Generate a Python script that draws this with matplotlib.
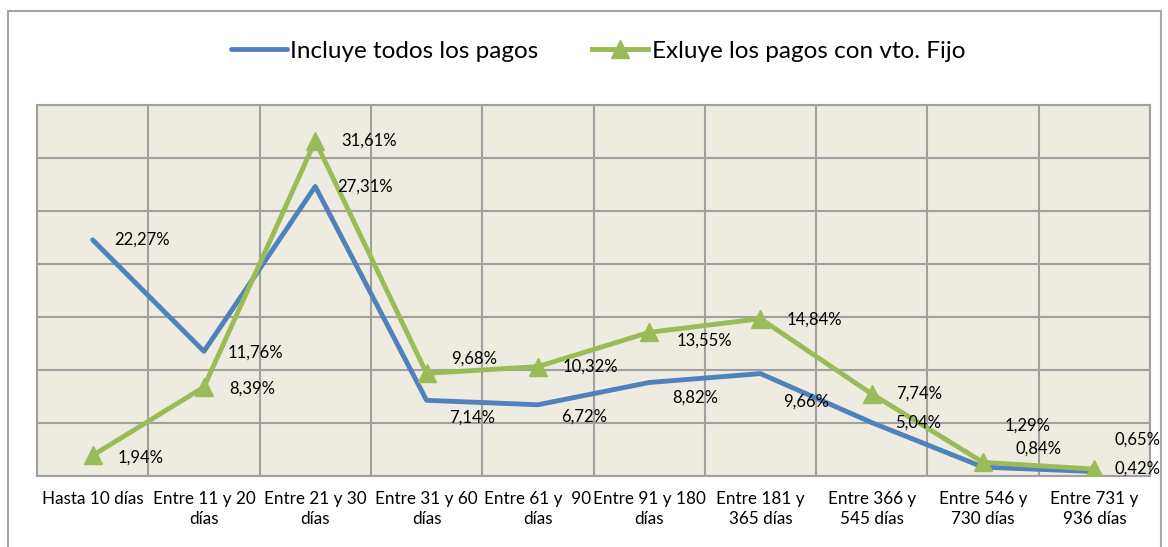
import matplotlib.pyplot as plt
from matplotlib.patches import Rectangle

# Datos
categorias = ["Hasta 10 días", "Entre 11 y 20\ndías", "Entre 21 y 30\ndías",
              "Entre 31 y 60\ndías", "Entre 61 y  90\ndías", "Entre 91 y 180\ndías",
              "Entre 181 y\n365 días", "Entre 366 y\n545 días", "Entre 546 y\n730 días",
              "Entre 731 y\n936 días"]
todos_pagos = [22.27, 11.76, 27.31, 7.14, 6.72, 8.82, 9.66, 5.04, 0.84, 0.42]
sin_vto_fijo = [1.94, 8.39, 31.61, 9.68, 10.32, 13.55, 14.84, 7.74, 1.29, 0.65]

# desplazamiento de cada etiqueta (pixeles, dy + hacia abajo)
dy_azul = [0, 1, 0, 17, 12, 15, 28, 0, -18, -3]
dy_verde = [2, 2, 0, -15, 0, 8, 1, 0, -37, -29]
dx_azul = [22, 24, 22, 23, 23, 23, 23, 23, 32, 20]
dx_verde = [25, 25, 26, 25, 25, 27, 26, 24, 22, 20]

AZUL = "#4F81BD"
VERDE = "#9BBB59"
GRIS = "#A0A0A0"

plt.rcParams['font.family'] = ['Lato', 'DejaVu Sans']

fig = plt.figure(figsize=(11.68, 5.47), dpi=100)
fig.patches.append(Rectangle((8 / 1168, -0.1), (1161 - 8) / 1168, 1.1 - 11 / 547,
                             transform=fig.transFigure, fill=False,
                             edgecolor="#A6A6A6", linewidth=1.5))

ax = fig.add_axes([37 / 1168, 1 - 476 / 547, (1150 - 37) / 1168, (476 - 105) / 547])
ax.set_facecolor("#EEECE1")

x = list(range(len(categorias)))
ax.plot(x, todos_pagos, color=AZUL, linewidth=3.5, solid_capstyle='round',
        solid_joinstyle='round', label="Incluye todos los pagos", zorder=3)
ax.plot(x, sin_vto_fijo, color=VERDE, linewidth=3.5, marker='^', markersize=13,
        solid_joinstyle='round', label="Exluye los pagos con vto. Fijo", zorder=4)

for i in x:
    ax.annotate(f"{todos_pagos[i]:.2f}%".replace(".", ","), (i, todos_pagos[i]),
                xytext=(dx_azul[i], -dy_azul[i]), textcoords='offset pixels',
                ha='left', va='center', fontsize=12, color='black', zorder=5)
    ax.annotate(f"{sin_vto_fijo[i]:.2f}%".replace(".", ","), (i, sin_vto_fijo[i]),
                xytext=(dx_verde[i], -dy_verde[i]), textcoords='offset pixels',
                ha='left', va='center', fontsize=12, color='black', zorder=5)

ax.set_xlim(-0.5, len(categorias) - 0.5)
ax.set_ylim(0, 35)
ax.set_yticks(range(0, 36, 5))
ax.set_yticklabels([])
ax.set_xticks(x)
ax.set_xticklabels(categorias, fontsize=12.3, linespacing=1.25)
ax.set_xticks([i - 0.5 for i in range(len(categorias) + 1)], minor=True)
ax.tick_params(axis='both', which='both', length=0)
ax.tick_params(axis='x', pad=11)
ax.grid(True, axis='y', which='major', color=GRIS, linewidth=1.5)
ax.grid(True, axis='x', which='minor', color=GRIS, linewidth=1.5)
ax.set_axisbelow(True)
for s in ax.spines.values():
    s.set_color(GRIS)
    s.set_linewidth(1.5)

fig.legend(loc='center', bbox_to_anchor=(0.5 + 14 / 1168, 1 - 51 / 547), ncol=2,
           frameon=False, fontsize=17.5, handlelength=2.3, handletextpad=0.15,
           columnspacing=2.2)

fig.savefig("out.png", dpi=100)
